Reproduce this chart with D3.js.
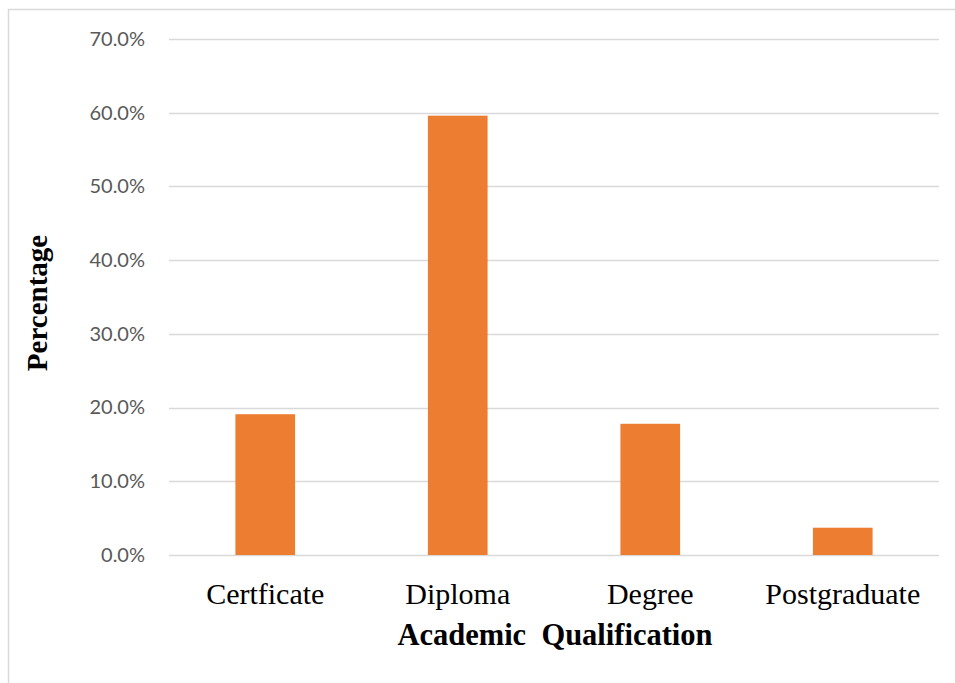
<!DOCTYPE html>
<html>
<head>
<meta charset="utf-8">
<script src="https://cdn.jsdelivr.net/npm/d3@7"></script>
<style>
  html, body { margin: 0; padding: 0; background: #fff; }
  svg { display: block; }
</style>
</head>
<body>
<svg id="chart" width="955" height="683"></svg>
<script>
const categories = ["Certficate", "Diploma", "Degree", "Postgraduate"];
const values = [0.191, 0.596, 0.178, 0.037];
const yTicks = [0, 0.1, 0.2, 0.3, 0.4, 0.5, 0.6, 0.7];
const xTitle = "Academic  Qualification";
const yTitle = "Percentage";

const svg = d3.select("#chart");
const W = 955, H = 683;
const plot = { left: 169, right: 939, top: 39, bottom: 555 };

// outer chart border
svg.append("rect")
  .attr("x", 8.5).attr("y", 9.5)
  .attr("width", W + 10).attr("height", H + 10)
  .attr("fill", "none").attr("stroke", "#d9d9d9").attr("stroke-width", 1.5);

const x = d3.scaleBand()
  .domain(categories)
  .range([plot.left, plot.right])
  .paddingInner(0.69)
  .paddingOuter(0.345);

const y = d3.scaleLinear()
  .domain([0, 0.7])
  .range([plot.bottom, plot.top]);

// gridlines
svg.append("g")
  .selectAll("line")
  .data(yTicks)
  .join("line")
  .attr("x1", plot.left).attr("x2", plot.right)
  .attr("y1", d => Math.round(y(d)) + 0.5)
  .attr("y2", d => Math.round(y(d)) + 0.5)
  .attr("stroke", "#d9d9d9").attr("stroke-width", 1.5);

// y axis labels
const yAxis = d3.axisLeft(y)
  .tickValues(yTicks)
  .tickFormat(d3.format(".1%"))
  .tickSize(0)
  .tickPadding(24);
const gy = svg.append("g")
  .attr("transform", `translate(${plot.left},0)`)
  .call(yAxis);
gy.select(".domain").remove();
gy.selectAll("text")
  .attr("fill", "#595959")
  .style("font-family", "Lato, 'Open Sans', sans-serif")
  .style("font-size", "20px");

// bars
svg.append("g")
  .selectAll("rect")
  .data(categories)
  .join("rect")
  .attr("x", d => x(d))
  .attr("width", x.bandwidth())
  .attr("y", (d, i) => y(values[i]))
  .attr("height", (d, i) => y(0) - y(values[i]))
  .attr("fill", "#ed7d31");

// x axis labels
const xAxis = d3.axisBottom(x).tickSize(0).tickPadding(28);
const gx = svg.append("g")
  .attr("transform", `translate(0,${plot.bottom})`)
  .call(xAxis);
gx.select(".domain").remove();
gx.selectAll("text")
  .attr("fill", "#000")
  .style("font-family", "'Liberation Serif', 'Times New Roman', serif")
  .style("font-size", "30px");

// axis titles
svg.append("text")
  .attr("x", (plot.left + plot.right) / 2 + 1)
  .attr("y", 645)
  .attr("text-anchor", "middle")
  .style("white-space", "pre")
  .attr("xml:space", "preserve")
  .style("font-family", "'Liberation Serif', 'Times New Roman', serif")
  .style("font-weight", "bold")
  .style("font-size", "30.5px")
  .attr("fill", "#000")
  .text(xTitle);

svg.append("text")
  .attr("transform", `translate(47,303) rotate(-90)`)
  .attr("text-anchor", "middle")
  .style("font-family", "'Liberation Serif', 'Times New Roman', serif")
  .style("font-weight", "bold")
  .style("font-size", "29px")
  .attr("fill", "#000")
  .text(yTitle);
</script>
</body>
</html>
